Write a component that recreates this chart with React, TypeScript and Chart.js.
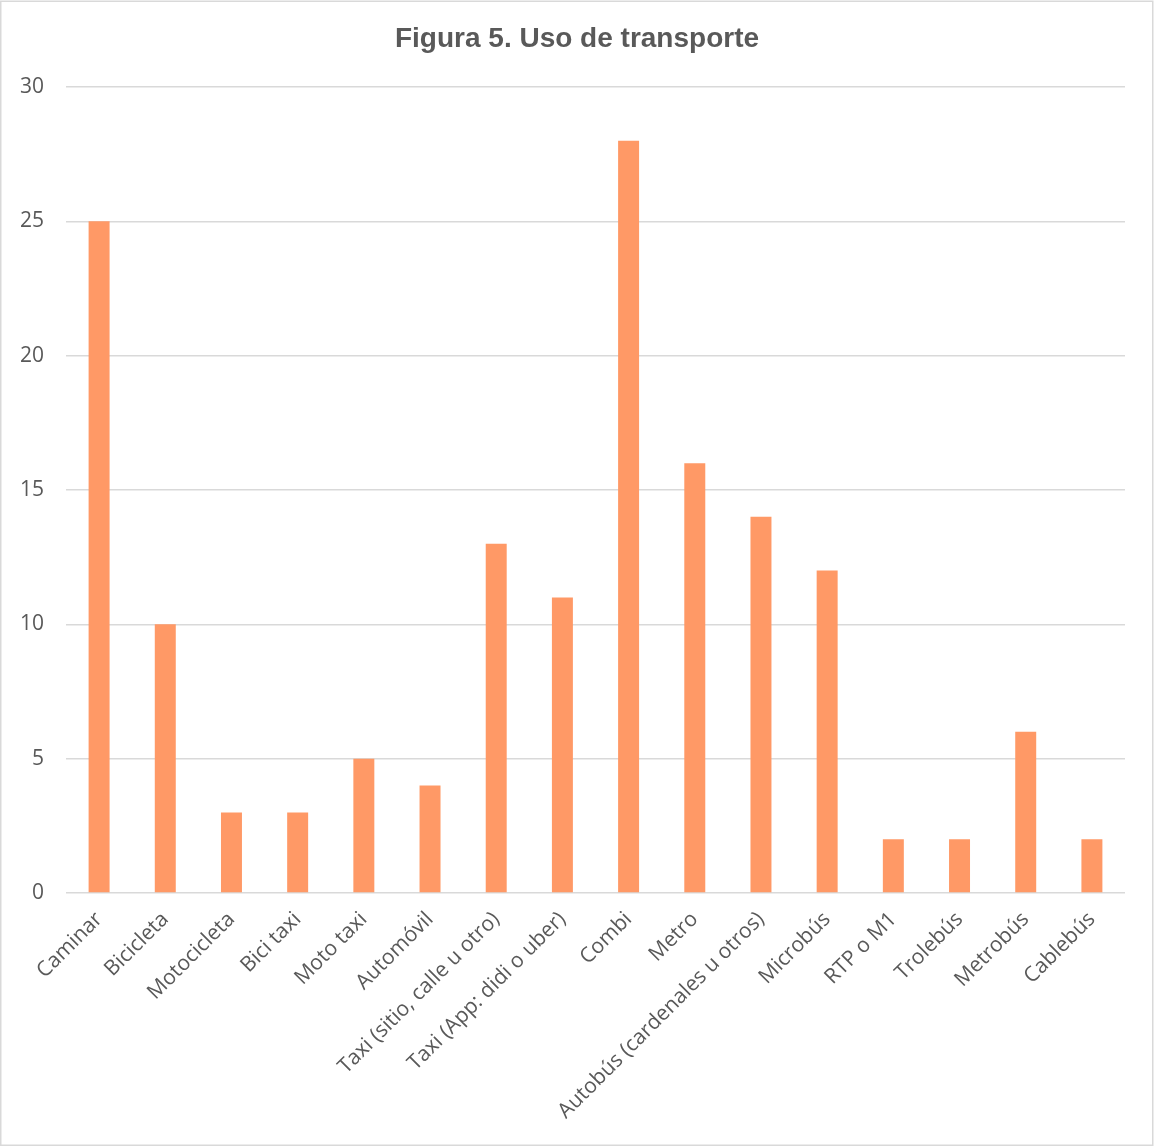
import React, { useEffect, useRef } from "react";
import { Chart, registerables } from "chart.js";

Chart.register(...registerables);

const categories: string[] = [
  "Caminar",
  "Bicicleta",
  "Motocicleta",
  "Bici taxi",
  "Moto taxi",
  "Automóvil",
  "Taxi (sitio, calle u otro)",
  "Taxi (App: didi o uber)",
  "Combi",
  "Metro",
  "Autobús (cardenales u otros)",
  "Microbús",
  "RTP o M1",
  "Trolebús",
  "Metrobús",
  "Cablebús",
];

const values: number[] = [25, 10, 3, 3, 5, 4, 13, 11, 28, 16, 14, 12, 2, 2, 6, 2];

const titleText = "Figura 5. Uso de transporte";
const yMin = 0;
const yMax = 30;
const yStep = 5;

const W = 1154;
const H = 1146;

const frameAndTitlePlugin = {
  id: "frameAndTitle",
  afterDraw(chart: any) {
    const ctx = chart.ctx;
    ctx.save();
    ctx.strokeStyle = "#d9d9d9";
    ctx.lineWidth = 1.5;
    ctx.strokeRect(0.75, 1.25, W - 2, H - 2);
    ctx.fillStyle = "#595959";
    ctx.font = "bold 28px 'Liberation Sans', Arial, sans-serif";
    ctx.textAlign = "center";
    ctx.textBaseline = "middle";
    ctx.fillText(titleText, W / 2, 39);
    ctx.restore();
  },
};

export default function App() {
  const ref = useRef<HTMLCanvasElement>(null);

  useEffect(() => {
    if (!ref.current) return;
    const chart = new Chart(ref.current, {
      type: "bar",
      data: {
        labels: categories,
        datasets: [
          {
            data: values,
            backgroundColor: "#FF9966",
            barPercentage: 0.317,
            categoryPercentage: 1,
          },
        ],
      },
      options: {
        animation: false,
        responsive: false,
        devicePixelRatio: 1,
        layout: { padding: { left: 0, right: 29, top: 87, bottom: 0 } },
        plugins: {
          legend: { display: false },
          tooltip: { enabled: false },
          title: { display: false },
        },
        scales: {
          x: {
            grid: { display: false },
            border: { display: false },
            ticks: {
              color: "#595959",
              font: { family: "'Open Sans', sans-serif", size: 21 },
              maxRotation: 45,
              minRotation: 45,
              autoSkip: false,
              padding: 6,
            },
            afterFit: (s: any) => {
              s.height = 253;
            },
          },
          y: {
            min: yMin,
            max: yMax,
            ticks: {
              stepSize: yStep,
              color: "#595959",
              font: { family: "'Open Sans', sans-serif", size: 21 },
              padding: 22,
            },
            grid: { color: "#d9d9d9", drawTicks: false, lineWidth: 1.5 },
            border: { display: false },
            afterFit: (s: any) => {
              s.width = 66;
            },
          },
        },
      },
      plugins: [frameAndTitlePlugin],
    });
    return () => chart.destroy();
  }, []);

  return (
    <div style={{ position: "absolute", left: 0, top: 0, width: W, height: H, background: "#fff" }}>
      <canvas ref={ref} width={W} height={H} style={{ display: "block" }} />
    </div>
  );
}
